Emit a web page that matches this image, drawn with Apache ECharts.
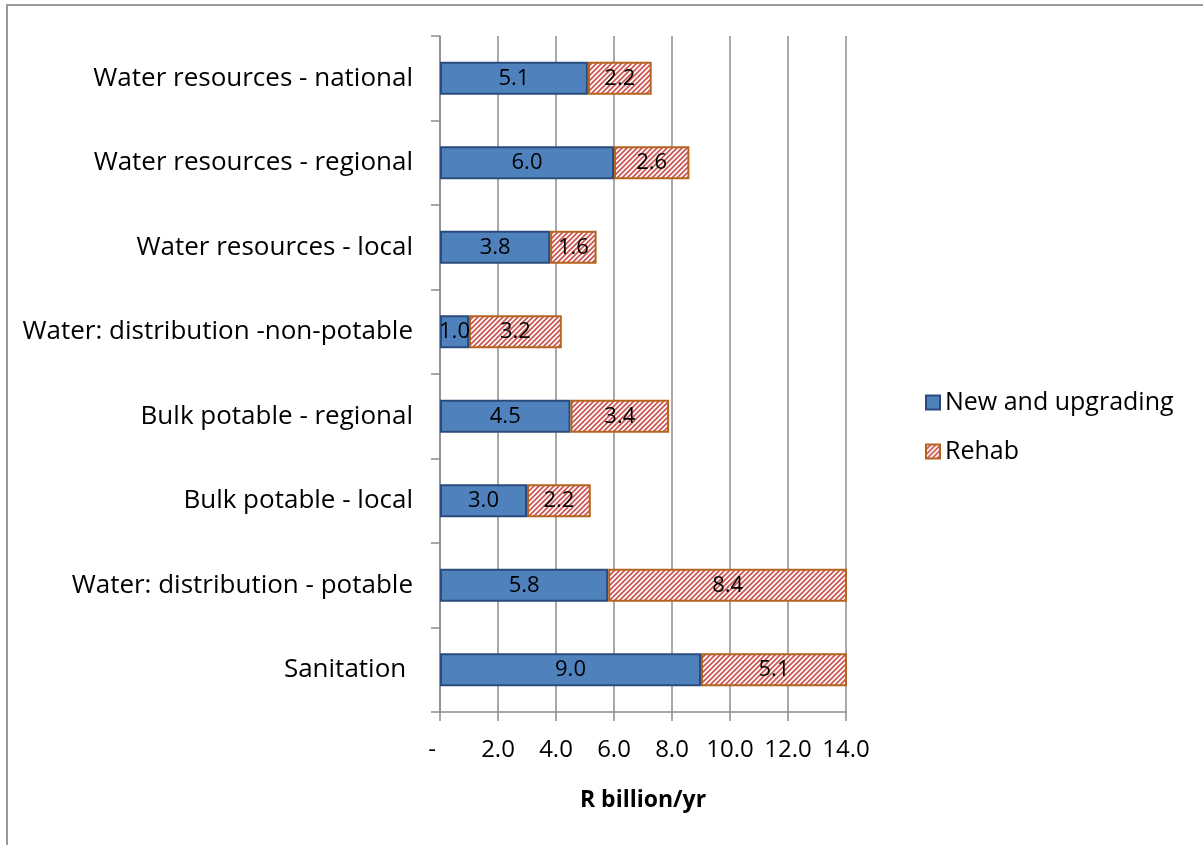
<!DOCTYPE html>
<html><head><meta charset="utf-8">
<script src="https://cdn.jsdelivr.net/npm/echarts@6/dist/echarts.min.js"></script>
<style>
html,body{margin:0;padding:0;background:#fff;overflow:hidden;}
#frame{position:absolute;left:6px;top:4px;width:1400px;height:1000px;border-left:2px solid #9a9a9a;border-top:2px solid #9a9a9a;}
#c{position:absolute;left:0;top:0;width:1203px;height:845px;}
</style></head><body>
<div id="frame"></div>
<div id="c"></div>
<script>
const categories = [
  'Water resources - national',
  'Water resources - regional',
  'Water resources - local',
  'Water: distribution -non-potable',
  'Bulk potable - regional',
  'Bulk potable - local',
  'Water: distribution - potable',
  'Sanitation '
];
const newUpgrading = [5.1, 6.0, 3.8, 1.0, 4.5, 3.0, 5.8, 9.0];
const rehab = [2.2, 2.6, 1.6, 3.2, 3.4, 2.2, 8.4, 5.1];
const xTickLabels = ['-', '2.0', '4.0', '6.0', '8.0', '10.0', '12.0', '14.0'];
const seriesNames = ['New and upgrading', 'Rehab'];
const axisTitle = 'R billion/yr';

function hatch() {
  const s = 5;
  const cv = document.createElement('canvas');
  cv.width = s; cv.height = s;
  const g = cv.getContext('2d');
  g.fillStyle = '#ffffff';
  g.fillRect(0, 0, s, s);
  g.strokeStyle = '#cc5652';
  g.lineWidth = 1.8;
  g.beginPath();
  g.moveTo(-2, s + 2); g.lineTo(s + 2, -2);
  g.moveTo(-2, 2); g.lineTo(2, -2);
  g.moveTo(s - 2, s + 2); g.lineTo(s + 2, s - 2);
  g.stroke();
  return cv;
}

const FONT = 'Open Sans';
const chart = echarts.init(document.getElementById('c'), null, {renderer: 'canvas'});
chart.setOption({
  animation: false,
  backgroundColor: 'transparent',
  textStyle: {fontFamily: FONT, color: '#000'},
  grid: {left: 440, right: 357, top: 36, bottom: 133, containLabel: false},
  legend: {
    orient: 'vertical', left: 920, top: 385,
    itemWidth: 14, itemHeight: 14, itemGap: 24,
    icon: 'rect',
    textStyle: {fontFamily: FONT, fontSize: 25, color: '#000'},
    data: seriesNames
  },
  xAxis: {
    type: 'value', min: 0, max: 14, interval: 2,
    name: axisTitle, nameLocation: 'middle', nameGap: 77,
    nameTextStyle: {fontFamily: FONT, fontSize: 23, fontWeight: 'bold', color: '#000'},
    axisLine: {show: true, lineStyle: {color: '#8c8c8c', width: 1.5}},
    axisTick: {show: true, length: 9, lineStyle: {color: '#8c8c8c', width: 1.5}},
    splitLine: {show: true, lineStyle: {color: '#8c8c8c', width: 1.5}},
    axisLabel: {
      margin: 26, fontSize: 24, color: '#000', fontFamily: FONT,
      formatter: function (v) {
        const i = Math.round(v / 2);
        return i === 0 ? '{z|' + xTickLabels[i] + '}' : xTickLabels[i];
      },
      rich: {z: {fontSize: 24, fontFamily: FONT, color: '#000', padding: [0, 16, 0, 0]}}
    }
  },
  yAxis: {
    type: 'category', inverse: true, data: categories,
    axisLine: {show: true, lineStyle: {color: '#8c8c8c', width: 1.5}},
    axisTick: {show: true, length: 9, lineStyle: {color: '#8c8c8c', width: 1.5}},
    axisLabel: {margin: 27, fontSize: 26, color: '#000', fontFamily: FONT}
  },
  series: [
    {
      name: seriesNames[0], type: 'bar', stack: 'a', data: newUpgrading,
      barWidth: 33,
      itemStyle: {color: '#4f81bd', borderColor: '#2a4b7c', borderWidth: 2},
      label: {show: true, position: 'inside', fontSize: 22, fontFamily: FONT, color: '#000',
        formatter: p => p.value.toFixed(1)}
    },
    {
      name: seriesNames[1], type: 'bar', stack: 'a', data: rehab,
      barWidth: 33,
      itemStyle: {color: {image: hatch(), repeat: 'repeat'}, borderColor: '#b4641e', borderWidth: 2},
      label: {show: true, position: 'inside', fontSize: 22, fontFamily: FONT, color: '#000',
        formatter: p => p.value.toFixed(1)}
    }
  ]
});
</script>
</body></html>
